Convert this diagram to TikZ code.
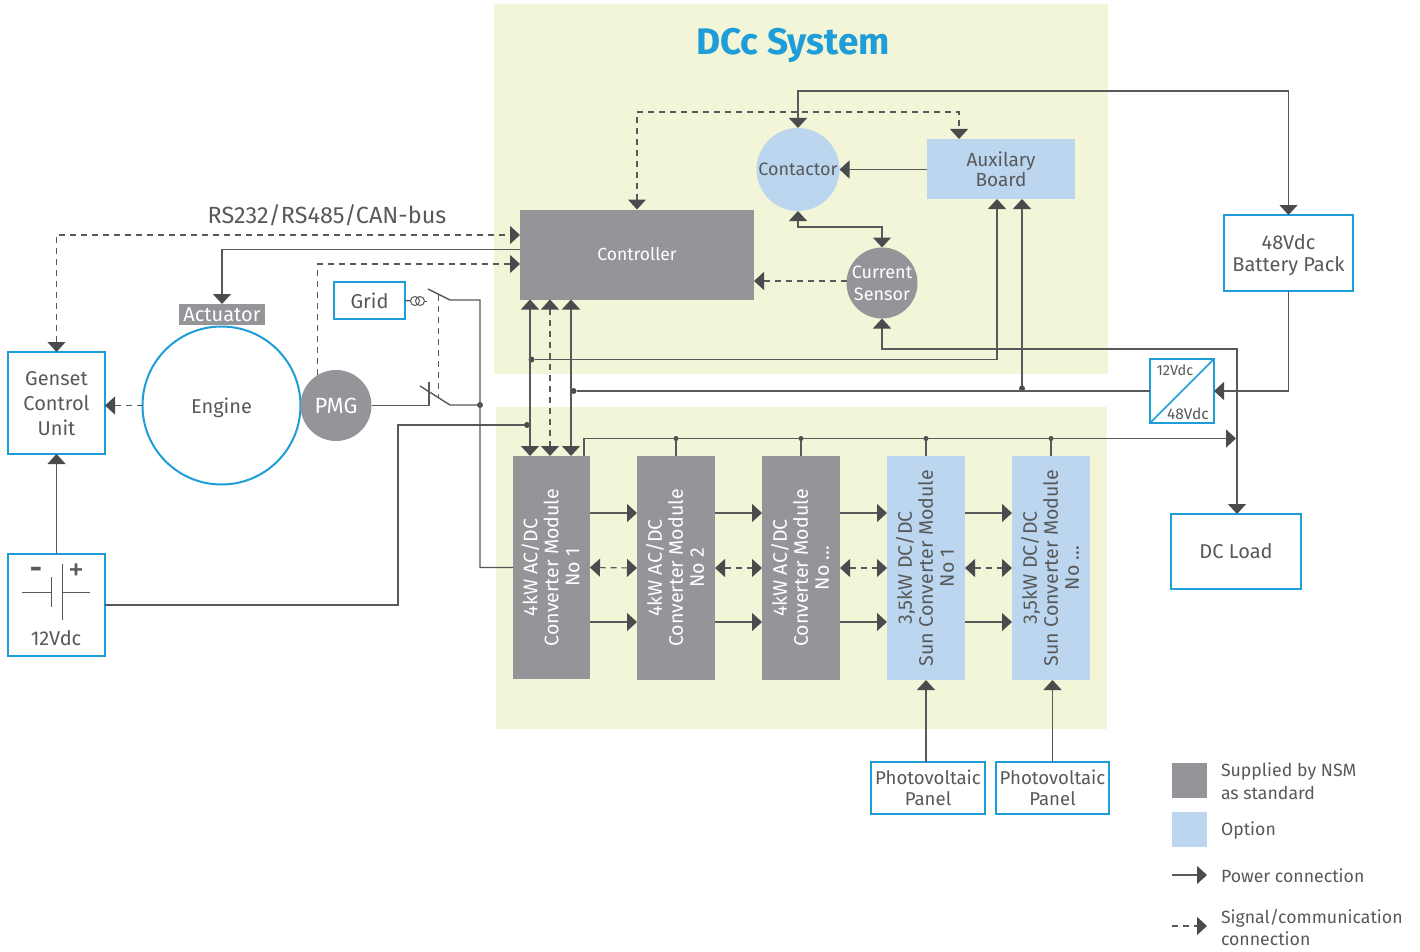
\documentclass[tikz,border=0pt]{standalone}
\usepackage{fontspec}
\setmainfont{Fira Sans}
\usetikzlibrary{arrows.meta}
\definecolor{mygrey}{RGB}{147, 149, 152}
\definecolor{myblue}{RGB}{187, 214, 238}
\definecolor{mygreen}{RGB}{242, 245, 215}
\definecolor{myline}{RGB}{31, 157, 217}
\definecolor{myink}{RGB}{88, 89, 91}
\definecolor{mytip}{RGB}{74, 75, 77}
\tikzset{>={Triangle[length=10pt,width=18pt,color=mytip]}}
\tikzstyle{panel} = [fill=mygreen, outer sep=0, inner sep=0]
\tikzstyle{greybox} = [fill=mygrey, outer sep=0, inner sep=0, text=white,
    font=\fontsize{18}{22}\selectfont, align=center]
\tikzstyle{bluebox} = [fill=myblue, outer sep=0, inner sep=0, text=myink,
    font=\fontsize{18}{21}\selectfont, align=center]
\tikzstyle{greymod} = [greybox, minimum width=78, minimum height=224, font=\fontsize{19.6}{21}\selectfont]
\tikzstyle{bluemod} = [bluebox, minimum width=78, minimum height=224, font=\fontsize{19.6}{21}\selectfont]
\tikzstyle{square} = [draw=myline, line width=2pt, fill=white, outer sep=0, inner sep=0,
    text=myink, font=\fontsize{20}{22}\selectfont, align=center]
\tikzstyle{round} = [circle, outer sep=0, inner sep=0]
\tikzstyle{dot} = [circle, fill=mytip, outer sep=0, inner sep=0, minimum size=6]
\tikzstyle{coil} = [circle, draw=myink, line width=1pt, inner sep=0, outer sep=0, minimum size=9]
\tikzstyle{textonly} = [text=myink, inner sep=0, outer sep=0, font=\fontsize{17.7}{22.5}\selectfont, align=left]
\tikzstyle{powline} = [line width=1.4pt, draw=myink]
\tikzstyle{sigline} = [line width=1.2pt, draw=myink, dash pattern=on 6pt off 5pt]

\begin{document}
\begin{tikzpicture}[x=1pt, y=-1pt]

\useasboundingbox (0,0) rectangle (1420,952);

%%% panels
\node[panel, minimum width=614, minimum height=370] (systop) at (801,189) {};
\node[panel, minimum width=611, minimum height=322] (sysbot) at (801.5,568) {};
\node[text=myline, inner sep=0, font=\fontsize{37}{39}\selectfont\bfseries] (title) at (793,45) {DCc System};

%%% controller group
\node[greybox, minimum width=234, minimum height=90, font=\fontsize{17.5}{21}\selectfont] (ctrl) at (637,254.5) {Controller};
\node[bluebox, round, minimum size=83, text depth=-4pt] (contactor) at (798,169.5) {Contactor};
\node[bluebox, minimum width=148, minimum height=60, font=\fontsize{19}{18}\selectfont, text depth=-4pt] (aux) at (1001,169) {Auxilary\\Board};
\node[greybox, round, minimum size=71, text depth=-1pt] (sensor) at (882,283) {Current\\Sensor};

%%% outside boxes
\node[square, minimum width=129, minimum height=76, text depth=-2pt] (battery) at (1288.5,253) {48Vdc\\Battery Pack};
\node[square, minimum width=130, minimum height=75] (load) at (1236,551.5) {DC Load};
\node[square, minimum width=64, minimum height=64] (conv) at (1182,391) {};
\node[textonly, font=\fontsize{14.5}{16}\selectfont] (conv12) at (1175,370) {12Vdc};
\node[textonly, font=\fontsize{15.5}{16}\selectfont] (conv48) at (1188,414) {48Vdc};

\node[square, round, minimum size=158, text depth=-2pt] (engine) at (221.5,405.5) {Engine};
\node[greybox, minimum width=86, minimum height=21, font=\fontsize{20}{21}\selectfont] (actuator) at (222,314.5) {Actuator};
\node[greybox, round, minimum size=71, font=\fontsize{22}{24}\selectfont, text depth=-4pt] (pmg) at (336,405.5) {PMG};
\node[square, minimum width=97, minimum height=102, font=\fontsize{20}{25}\selectfont, text depth=-4pt] (genset) at (56.5,403) {Genset\\Control\\Unit};
\node[square, minimum width=97, minimum height=102] (cell) at (56.5,605) {};
\node[textonly, font=\fontsize{20}{22}\selectfont] (celltxt) at (56,638) {12Vdc};
\node[textonly, font=\fontsize{30}{32}\selectfont\bfseries] (cellminus) at (36,573) {-};
\node[textonly, font=\fontsize{32}{34}\selectfont] (cellplus) at (76,572) {+};
\node[square, minimum width=71, minimum height=37, text depth=-2pt] (grid) at (369.5,300.5) {Grid};
\node[textonly, font=\fontsize{23.4}{25}\selectfont] (rsbus) at (327,215) {RS232/RS485/CAN-bus};

%%% modules
\node[greymod, minimum width=77, minimum height=223] (mod1) at (551.5,567.5) {\hspace*{4pt}\rotatebox{90}{\begin{tabular}{c} 4kW AC/DC \\ Converter Module \\ No 1 \end{tabular}}};
\node[greymod] (mod2) at (676,568) {\hspace*{4pt}\rotatebox{90}{\begin{tabular}{c} 4kW AC/DC \\ Converter Module \\ No 2 \end{tabular}}};
\node[greymod] (mod3) at (801,568) {\hspace*{4pt}\rotatebox{90}{\begin{tabular}{c} 4kW AC/DC \\ Converter Module \\ No ... \end{tabular}}};
\node[bluemod] (mod4) at (926,568) {\hspace*{4pt}\rotatebox{90}{\begin{tabular}{c} 3,5kW DC/DC \\ Sun Converter Module \\ No 1 \end{tabular}}};
\node[bluemod] (mod5) at (1051,568) {\hspace*{4pt}\rotatebox{90}{\begin{tabular}{c} 3,5kW DC/DC \\ Sun Converter Module \\ No ... \end{tabular}}};

\node[square, minimum width=114, minimum height=52, font=\fontsize{18.6}{21}\selectfont, text depth=-2pt] (pv1) at (928,788) {Photovoltaic\\Panel};
\node[square, minimum width=113, minimum height=52, font=\fontsize{18.6}{21}\selectfont, text depth=-2pt] (pv2) at (1052.5,788) {Photovoltaic\\Panel};

%%% junctions
\node[dot] (jmain) at (531.5,359.5) {};
\node[dot] (jconv) at (573.5,391) {};
\node[dot] (jaux) at (1022,388.5) {};
\node[dot] (jcell) at (527,425) {};
\node[dot] (jgen) at (480,405) {};
\node[dot, minimum size=5] (jmod2) at (676,438.5) {};
\node[dot, minimum size=5] (jmod3) at (801,438.5) {};
\node[dot, minimum size=5] (jmod4) at (926,438.5) {};
\node[dot, minimum size=5] (jmod5) at (1051,438.5) {};

%%% switches
\node[coil] (cta) at (415,301) {};
\node[coil] (ctb) at (420,301) {};
\coordinate (ctend) at (427,301);
\coordinate (swatop) at (428,289);
\coordinate (swatail) at (450,300);
\coordinate (swbtop) at (420,386);
\coordinate (swbtail) at (450,405);
\coordinate (swbstop) at (429,382);
\coordinate (linka) at (438.5,295);
\coordinate (linkb) at (438.5,397);
\coordinate (busend) at (1236,438.5);

\draw[powline] (grid.east) -- (cta);
\draw[powline, line width=1pt] (ctb) -- (ctend);
\draw[powline] (swatop) -- (swatail) -| (jgen.center) |- (mod1.west);
\draw[powline] (swbtop) -- (swbtail) -- (jgen);
\draw[powline] (pmg.east) -| (swbstop);
\draw[sigline] (linka) -- (linkb);

%%% signal lines
\draw[sigline, <->] (genset.north) |- (ctrl.west |- 0,235);
\draw[powline, ->] (ctrl.west |- 0,249.5) -| (actuator.north);
\draw[sigline, ->] (pmg.121) |- (ctrl.west |- 0,264);
\draw[sigline, ->] (engine.west) -- (genset.east |- engine.west);
\draw[powline, ->] (cell.north) -- (genset.south);
\draw[powline] (cell.east) -| (398,425) -- (jcell);

%%% controller to modules
\draw[powline, <->] (ctrl.south -| 530,0) -- (mod1.north -| 530,0);
\draw[sigline, <->] (ctrl.south -| 550,0) -- (mod1.north -| 550,0);
\draw[powline, <->] (ctrl.south -| 571,0) -- (mod1.north -| 571,0);
\draw[powline, ->] (jmain) -| (aux.south -| 997,0);
\draw[powline, ->] (jaux) -- (aux.south -| jaux);
\draw[powline] (jconv) -- (conv.west |- jconv);
\draw[powline, ->] (battery.south) |- (conv.east);

%%% top group
\draw[powline, <->] (battery.north) |- (0,91 -| contactor.north) -- (contactor.north);
\draw[sigline, <->] (ctrl.north) |- (959,112) -- (aux.north -| 959,0);
\draw[powline, ->] (aux.west |- contactor) -- (contactor.east);
\draw[powline, <->] (contactor.south) |- (882,227) -- (sensor.north);
\draw[sigline, ->] (sensor.west |- 0,281) -- (ctrl.east |- 0,281);
\draw[powline, <->] (sensor.south) |- (1237,349) -- (load.north -| 1237,0);

%%% dc bus
\draw[powline, ->] (mod1.north -| 584,0) |- (busend);
\draw[powline] (jmod2) -- (mod2.north);
\draw[powline] (jmod3) -- (mod3.north);
\draw[powline] (jmod4) -- (mod4.north);
\draw[powline] (jmod5) -- (mod5.north);

%%% between modules
\draw[powline, ->] (mod1.east |- 0,513) -- (mod2.west |- 0,513);
\draw[powline, ->] (mod2.east |- 0,513) -- (mod3.west |- 0,513);
\draw[powline, ->] (mod3.east |- 0,513) -- (mod4.west |- 0,513);
\draw[powline, ->] (mod4.east |- 0,513) -- (mod5.west |- 0,513);
\draw[sigline, <->] (mod1.east) -- (mod2.west);
\draw[sigline, <->] (mod2.east) -- (mod3.west);
\draw[sigline, <->] (mod3.east) -- (mod4.west);
\draw[sigline, <->] (mod4.east) -- (mod5.west);
\draw[powline, ->] (mod1.east |- 0,622) -- (mod2.west |- 0,622);
\draw[powline, ->] (mod2.east |- 0,622) -- (mod3.west |- 0,622);
\draw[powline, ->] (mod3.east |- 0,622) -- (mod4.west |- 0,622);
\draw[powline, ->] (mod4.east |- 0,622) -- (mod5.west |- 0,622);
\draw[powline, ->] (pv1.north -| mod4.south) -- (mod4.south);
\draw[powline, ->] (pv2.north) -- (mod5.south -| pv2.north);

%%% symbols in boxes
\draw[line width=1.5pt, myline] (conv.south west) -- (conv.north east);
\draw[line width=1pt, myink] (22,592) -- (51,592) (51,577) -- (51,607);
\draw[line width=1pt, myink] (62,564) -- (62,620) (62,592) -- (90,592);

%%% legend
\node[greybox, minimum size=35] (keygrey) at (1189.5,780.5) {};
\node[bluebox, minimum size=35] (keyblue) at (1189.5,829.5) {};
\coordinate (keya) at (1172,875);
\coordinate (keyb) at (1207,875);
\coordinate (keyc) at (1172,926);
\coordinate (keyd) at (1207,926);
\draw[powline, ->] (keya) -- (keyb);
\draw[sigline, ->] (keyc) -- (keyd);
\node[textonly, anchor=west] (keytxt1) at (1221,781) {Supplied by NSM\\as standard};
\node[textonly, anchor=west] (keytxt2) at (1221,830.5) {Option};
\node[textonly, anchor=west] (keytxt3) at (1221,876) {Power connection};
\node[textonly, anchor=west] (keytxt4) at (1221,927.5) {Signal/communication\\connection};

\end{tikzpicture}
\end{document}
